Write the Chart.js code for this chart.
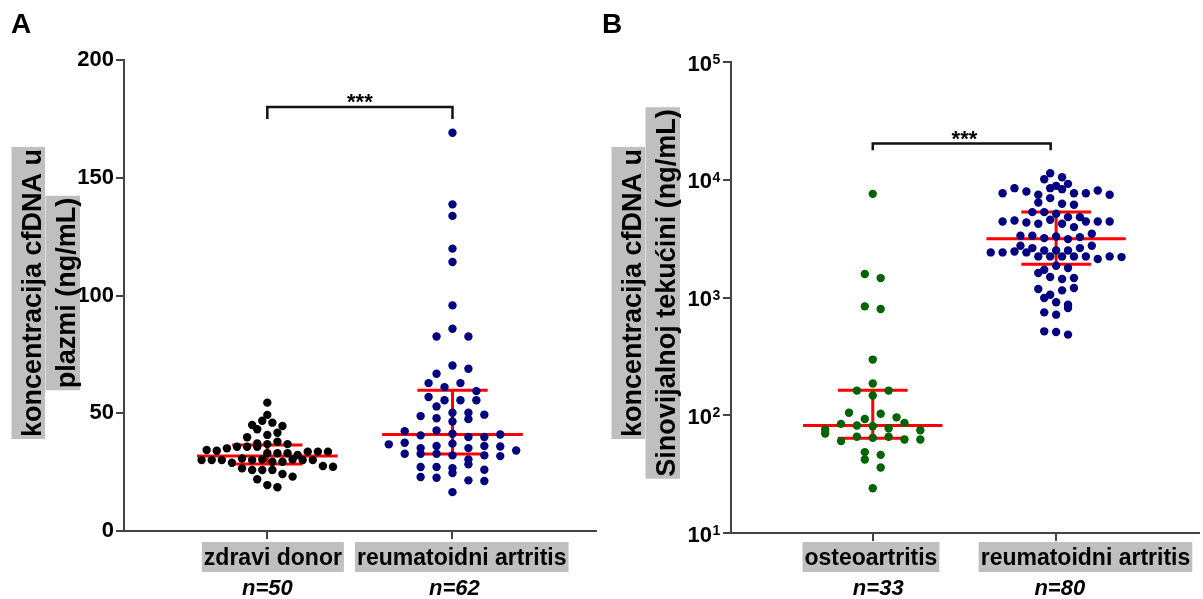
<!DOCTYPE html>
<html lang="hr">
<head>
<meta charset="UTF-8">
<title>cfDNA koncentracija</title>
<script src="https://cdn.jsdelivr.net/npm/chart.js"></script>
<style>
  body { margin: 0; background: #fff; }
  .panel { position: absolute; top: 0; height: 599px; }
  #panelA { left: 0; width: 600px; }
  #panelB { left: 600px; width: 603px; }
</style>
</head>
<body>
<div class="panel" id="panelA"><canvas id="chartA" width="600" height="599"></canvas></div>
<div class="panel" id="panelB"><canvas id="chartB" width="603" height="599"></canvas></div>
<script>
// ---- values ----
// panel A: plasma (ng/mL)
const categoriesA = ['zdravi donor', 'reumatoidni artritis'];
const countsA = ['n=50', 'n=62'];
const donorPlasma = [
  54.5, 49.3,
  43.2, 45.0, 46.8, 46.0, 44.6,
  40.8, 39.8, 41.7,
  37.2, 36.9, 37.9, 36.9,
  34.4, 34.1, 35.1, 35.8, 35.8, 35.8,
  33.0, 33.0, 33.0, 32.3, 33.7, 33.7, 33.7,
  30.1, 30.1, 30.1, 29.0, 30.8, 30.1, 30.4, 29.4, 29.4, 30.4, 30.1, 30.1,
  27.6, 26.6, 25.9, 27.3, 25.9, 25.9,
  24.2, 23.1, 22.0,
  19.5, 18.6
];
const raPlasma = [
  169.1, 133.8, 138.7, 119.9, 114.2,
  95.8, 82.6, 85.9, 82.6,
  66.8, 70.3, 68.9,
  62.8, 61.1, 62.8, 59.4, 56.9,
  55.5, 55.5, 55.5, 52.9,
  50.2, 50.2,
  48.8, 47.9, 46.5, 47.5, 49.4,
  42.4, 40.6, 42.7, 41.3, 39.9, 39.9, 41.0,
  36.8, 37.5, 35.2, 36.1, 37.1, 35.2, 36.1, 35.9, 34.2,
  32.8, 32.8, 32.8, 32.1, 30.4, 32.1, 31.8,
  27.2, 27.2, 26.7, 28.3, 26.0,
  22.9, 22.6, 24.6, 21.5, 21.2,
  16.5
];
const mediansA = [31.8, 41.0];
const q1A = [28.4, 32.7];
const q3A = [36.5, 59.8];
const bracketA = [175, 180];
const yTicksA = [0, 50, 100, 150, 200];

// panel B: synovial fluid (ng/mL), log axis
const categoriesB = ['osteoartritis', 'reumatoidni artritis'];
const countsB = ['n=33', 'n=80'];
const oaSynovial = [
  7590, 1582, 1462, 841, 799, 297, 186, 162, 147, 162,
  105, 93, 103, 96,
  75.6, 84.5, 70, 81.8, 80.7, 77.6, 86.1, 74.6,
  60.3, 65.6, 64.3, 65.6, 62.2, 62.2,
  48.6, 42.1, 46.1, 36.0, 24.0
];
const raSynovial = [
  11370, 10515, 10110,
  7690, 8483, 7948, 7447, 8483, 8318, 7690, 8878, 7690, 9230, 8105, 7447,
  6412, 6978, 6246, 6125,
  5309, 5309, 5138, 4814, 4814,
  4424, 4510, 4337, 4227, 4570, 4227, 3960, 4424, 4424, 4424,
  3344, 3344, 3194, 3300, 3133, 3257, 3477,
  2750, 2628, 2510, 2415, 2510, 2415, 2462, 2510, 2628, 2415, 2750,
  2233, 2233, 2233, 2233, 2233, 2120, 2233, 2204,
  1721, 1861, 1613, 1492, 1434, 1463, 1778,
  1180, 1056, 990, 1150, 910, 1203, 869,
  748, 715, 814,
  516, 509, 484
];
const mediansB = [81.8, 3150];
const q1B = [63.8, 1920];
const q3B = [163, 5310];
const bracketB = [17800, 20300];
const yTicksB = [10, 100, 1000, 10000, 100000];
const yExponentsB = ['1', '2', '3', '4', '5'];

// ---- styling ----
const FONT = "'Liberation Sans', Arial, sans-serif";
const AXIS = '#444';
const BOX = '#bfbfbf';
const DOT_R = 4.2;
const BIN_PX = 8.5;      // swarm row height
const MAX_STEP = 16;     // max horizontal spacing of dots
const SWARM_W = 132;     // widest row
const MED_HALF = 0.38, IQR_HALF = 0.19;
const TITLE_COLS = [[11.5, 45, 40.5], [45.5, 80, 75]];
const TITLE_CY = 293;

Chart.defaults.font.family = FONT;

// place dots in rows, like a column scatter
function swarm(chart, values, cat) {
  const xs = chart.scales.x, ys = chart.scales.y;
  const order = values.map((v, i) => i).sort((a, b) => values[a] - values[b]);
  const bins = [];
  let cur = null, start = 0;
  order.forEach(i => {
    const py = ys.getPixelForValue(values[i]);
    if (!cur || start - py > BIN_PX) { cur = []; bins.push(cur); start = py; }
    cur.push(i);
  });
  const maxN = Math.max(...bins.map(b => b.length));
  const step = maxN > 1 ? Math.min(MAX_STEP, SWARM_W / (maxN - 1)) : 0;
  const cx = xs.getPixelForValue(cat);
  const pts = [];
  bins.forEach(b => {
    b.sort((a, c) => a - c);
    b.forEach((i, k) => {
      const px = cx + (k - (b.length - 1) / 2) * step;
      pts.push({ x: xs.getValueForPixel(px), y: values[i] });
    });
  });
  return pts;
}

function errorBars(med, q1, q3) {
  const d = [];
  med.forEach((m, i) => {
    const c = i + 1;
    d.push({ x: c - MED_HALF, y: m }, { x: c + MED_HALF, y: m }, { x: c, y: null });
    d.push({ x: c - IQR_HALF, y: q3[i] }, { x: c + IQR_HALF, y: q3[i] }, { x: c, y: null });
    d.push({ x: c - IQR_HALF, y: q1[i] }, { x: c + IQR_HALF, y: q1[i] }, { x: c, y: null });
    d.push({ x: c, y: q1[i] }, { x: c, y: q3[i] }, { x: c, y: null });
  });
  return d;
}

function labelPlugin(p) {
  return {
    id: 'labels' + p.letter,
    afterDraw(chart) {
      const ctx = chart.ctx, xs = chart.scales.x, ys = chart.scales.y;
      ctx.save();
      ctx.fillStyle = '#000';
      ctx.textBaseline = 'alphabetic';

      ctx.font = 'bold 28px ' + FONT;
      ctx.textAlign = 'left';
      ctx.fillText(p.letter, p.letterX, 33);

      // axis title, two boxed lines
      ctx.font = 'bold 27px ' + FONT;
      ctx.textAlign = 'center';
      p.title.forEach((t, i) => {
        const w = ctx.measureText(t).width;
        const [l, r, base] = TITLE_COLS[i];
        ctx.save();
        ctx.translate(0, TITLE_CY);
        ctx.rotate(-Math.PI / 2);
        ctx.fillStyle = BOX;
        ctx.fillRect(-w / 2 - 2, l, w + 4, r - l);
        ctx.fillStyle = '#000';
        ctx.fillText(t, 0, base);
        ctx.restore();
      });

      // category labels
      ctx.font = 'bold 23px ' + FONT;
      p.categories.forEach((c, i) => {
        const cx = xs.getPixelForValue(i + 1 + p.labelShift[i]);
        const w = ctx.measureText(c).width;
        ctx.fillStyle = BOX;
        ctx.fillRect(cx - w / 2 - 2, 542, w + 4, 30);
        ctx.fillStyle = '#000';
        ctx.fillText(c, cx, 564.5);
      });
      ctx.font = 'italic bold 22px ' + FONT;
      p.counts.forEach((n, i) => {
        ctx.fillText(n, xs.getPixelForValue(i + 1 + p.countShift[i]), 595);
      });

      // significance
      ctx.font = 'bold 22px ' + FONT;
      ctx.fillText('***', xs.getPixelForValue(1.5), ys.getPixelForValue(p.bracket[1]) + 2);

      // power-of-ten tick labels
      if (p.exponents) {
        const right = ys.left + ys.width - 8 - 11;
        p.yTicks.forEach((v, i) => {
          const py = ys.getPixelForValue(v);
          ctx.textAlign = 'left';
          ctx.font = 'bold 14px ' + FONT;
          ctx.fillText(p.exponents[i], right + 0.5, py + 2);
          ctx.textAlign = 'right';
          ctx.font = 'bold 22px ' + FONT;
          ctx.fillText('10', right, py + 8.5);
        });
      }
      ctx.restore();
    }
  };
}

function makeChart(id, p) {
  const yScale = {
    type: p.log ? 'logarithmic' : 'linear',
    min: p.yTicks[0],
    max: p.yTicks[p.yTicks.length - 1],
    afterBuildTicks: s => { s.ticks = p.yTicks.map(v => ({ value: v })); },
    afterFit: s => { s.width = p.yAxisW; },
    ticks: { display: !p.log, color: '#000', padding: 2, font: { size: 22, weight: 'bold' } },
    grid: { drawOnChartArea: false, drawTicks: true, tickLength: 8, color: AXIS, lineWidth: 2 },
    border: { display: true, color: AXIS, width: 2 }
  };
  const chart = new Chart(document.getElementById(id), {
    type: 'scatter',
    data: {
      datasets: [
        ...p.groups.map(g => ({
          data: [], backgroundColor: g.color, pointRadius: DOT_R,
          pointBorderWidth: 0, order: 1
        })),
        {
          data: errorBars(p.medians, p.q1, p.q3), showLine: true, spanGaps: false,
          borderColor: '#ff0000', borderWidth: 3, pointRadius: 0, order: 2
        },
        {
          data: [
            { x: 1, y: p.bracket[0] }, { x: 1, y: p.bracket[1] },
            { x: p.bracketEnd, y: p.bracket[1] }, { x: p.bracketEnd, y: p.bracket[0] }
          ],
          showLine: true, borderColor: '#111', borderWidth: 2.5, pointRadius: 0,
          borderJoinStyle: 'miter', order: 0
        }
      ]
    },
    options: {
      responsive: false,
      animation: false,
      events: [],
      layout: { padding: { top: p.top, right: p.right, left: 0, bottom: 0 } },
      plugins: { legend: { display: false }, tooltip: { enabled: false } },
      scales: {
        x: {
          type: 'linear', min: p.xRange[0], max: p.xRange[1],
          afterBuildTicks: s => { s.ticks = [{ value: 1 }, { value: 2 }]; },
          afterFit: s => { s.height = p.xAxisH; },
          ticks: { display: false },
          grid: { drawOnChartArea: false, drawTicks: true, tickLength: 8, color: AXIS, lineWidth: 2 },
          border: { display: true, color: AXIS, width: 2 }
        },
        y: yScale
      }
    },
    plugins: [labelPlugin(p)]
  });
  p.groups.forEach((g, i) => { chart.data.datasets[i].data = swarm(chart, g.values, i + 1); });
  chart.update('none');
  return chart;
}

makeChart('chartA', {
  letter: 'A', letterX: 11,
  title: ['koncentracija cfDNA u', 'plazmi (ng/mL)'],
  categories: categoriesA, counts: countsA,
  labelShift: [0.03, 0.05], countShift: [0, 0.01],
  groups: [{ values: donorPlasma, color: '#000000' }, { values: raPlasma, color: '#000080' }],
  medians: mediansA, q1: q1A, q3: q3A,
  bracket: bracketA, bracketEnd: 2,
  yTicks: yTicksA, log: false,
  xRange: [0.226, 2.774],
  top: 60, right: 2, yAxisW: 124, xAxisH: 68
});

makeChart('chartB', {
  letter: 'B', letterX: 2,
  title: ['koncentracija cfDNA u', 'Sinovijalnoj tekućini (ng/mL)'],
  categories: categoriesB, counts: countsB,
  labelShift: [-0.01, 0.16], countShift: [0.03, 0.02],
  groups: [{ values: oaSynovial, color: '#006400' }, { values: raSynovial, color: '#000080' }],
  medians: mediansB, q1: q1B, q3: q3B,
  bracket: bracketB, bracketEnd: 1.97,
  yTicks: yTicksB, exponents: yExponentsB, log: true,
  xRange: [0.227, 2.778],
  top: 62, right: 0, yAxisW: 131, xAxisH: 66
});
</script>
</body>
</html>
